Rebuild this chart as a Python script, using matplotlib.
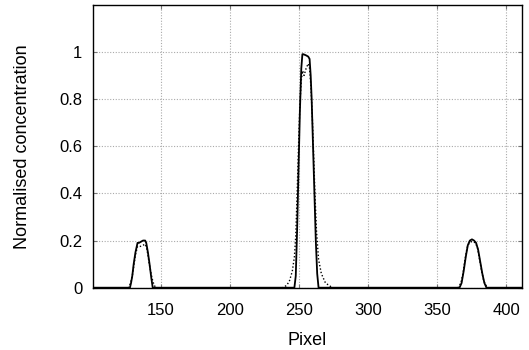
import matplotlib
matplotlib.use("Agg")
import matplotlib.pyplot as plt

plt.rcParams['font.family'] = ['Liberation Sans', 'DejaVu Sans']

# Solid series (x in pixel, y normalised concentration)
solid_x = [101, 127.5, 128.3, 129.2, 130.2, 131.5, 133, 134, 135.5, 137, 138.5, 139.3, 140.5, 141.7, 143, 144,
           246.5, 247.5, 248.5, 249.5, 250.5, 251.5, 252.3, 253, 255, 256.5, 257.5, 258.3, 259, 260, 261, 262, 263, 264,
           366, 367.5, 369, 370.5, 372, 373.5, 375, 376.5, 378, 379.5, 381, 382.5, 384, 385.5, 411]
solid_y = [0, 0, 0.02, 0.05, 0.1, 0.15, 0.19, 0.19, 0.195, 0.2, 0.2, 0.19, 0.15, 0.1, 0.04, 0,
           0, 0.05, 0.25, 0.5, 0.75, 0.93, 0.99, 0.99, 0.985, 0.98, 0.97, 0.9, 0.8, 0.6, 0.4, 0.2, 0.06, 0,
           0, 0.02, 0.07, 0.13, 0.18, 0.2, 0.205, 0.2, 0.19, 0.16, 0.11, 0.06, 0.02, 0, 0]

# Dotted series
dotted_x = [101, 126.5, 128, 129.5, 130.5, 131.5, 133, 135, 137, 138.5, 139.5, 140.5, 141.5, 142.5, 143.5, 145, 146.5,
            238, 241, 243, 245, 246.5, 247.5, 248.5, 249.5, 250.5, 251.5, 252.5, 253.5, 255, 256.5, 257.5, 258.5,
            259.5, 260.5, 261.5, 262.5, 264, 266, 269, 274,
            365, 367, 368.5, 370, 371.5, 373, 374.5, 376, 377.5, 379, 380.5, 382, 383.5, 386, 411]
dotted_y = [0, 0, 0.02, 0.06, 0.1, 0.14, 0.175, 0.175, 0.18, 0.185, 0.17, 0.14, 0.1, 0.07, 0.04, 0.01, 0,
            0, 0.01, 0.03, 0.07, 0.13, 0.22, 0.4, 0.6, 0.78, 0.88, 0.92, 0.9, 0.93, 0.95, 0.93, 0.85,
            0.72, 0.55, 0.38, 0.24, 0.12, 0.06, 0.02, 0,
            0, 0.02, 0.06, 0.12, 0.17, 0.19, 0.195, 0.195, 0.19, 0.17, 0.12, 0.07, 0.03, 0, 0]

x_ticks = [150, 200, 250, 300, 350, 400]
y_ticks = [0, 0.2, 0.4, 0.6, 0.8, 1.0]
y_tick_labels = ['0', '0.2', '0.4', '0.6', '0.8', '1']

fig = plt.figure(figsize=(5.29, 3.5), dpi=100)
ax = fig.add_axes([0.1764, 0.178, 0.8098, 0.8086])

ax.plot(dotted_x, dotted_y, color='black', linestyle=(0, (1, 1.5)), linewidth=1.0)
ax.plot(solid_x, solid_y, color='black', linestyle='-', linewidth=1.3)

ax.set_xlim(101, 411)
ax.set_ylim(0, 1.2)
ax.set_xticks(x_ticks)
ax.set_yticks(y_ticks)
ax.set_yticklabels(y_tick_labels)
ax.grid(True, color='#aaaaaa', linestyle=(0, (1, 1.5)), linewidth=0.8)
ax.set_axisbelow(True)
ax.tick_params(direction='in', length=3, labelsize=12, width=0.8, color='#777777',
               top=True, right=True)
ax.tick_params(axis='y', pad=8)
ax.tick_params(axis='x', pad=11)
for s in ax.spines.values():
    s.set_linewidth(1.0)

ax.set_xlabel('Pixel', fontsize=13, labelpad=10)
ax.set_ylabel('Normalised concentration', fontsize=13, labelpad=20)

fig.savefig('out.png', dpi=100)
